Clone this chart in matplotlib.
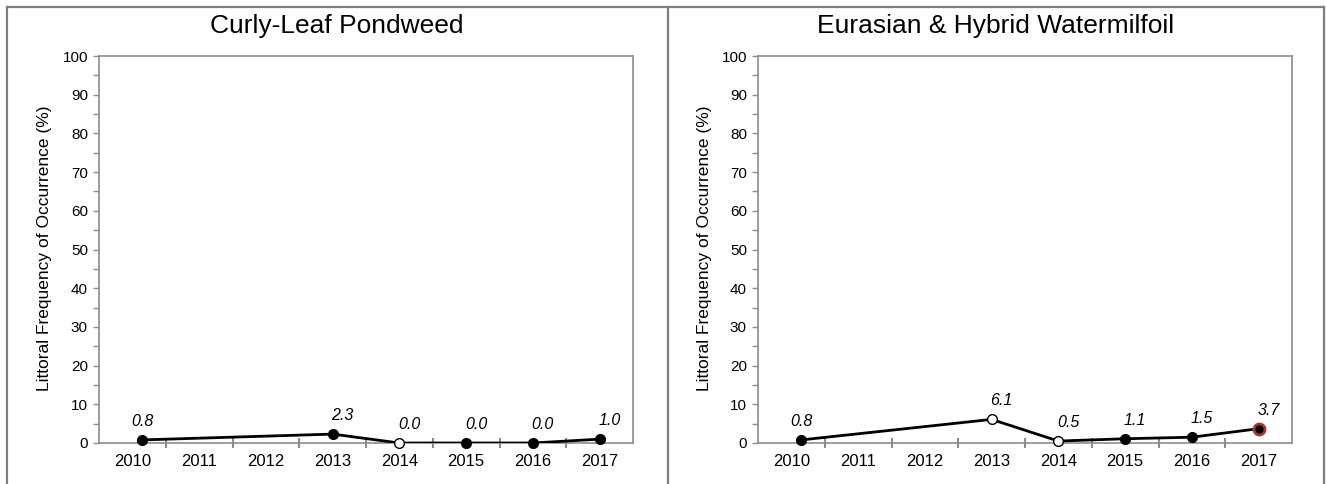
import matplotlib.pyplot as plt
from matplotlib.lines import Line2D

plt.rcParams['font.family'] = ['Liberation Sans', 'DejaVu Sans']

# survey years (2010 sits a bit right of its category in the original)
years = [2010.15, 2013, 2014, 2015, 2016, 2017]
year_labels = ['2010', '2011', '2012', '2013', '2014', '2015', '2016', '2017']

clp_values = [0.8, 2.3, 0.0, 0.0, 0.0, 1.0]
clp_fill = ['black', 'black', 'white', 'black', 'black', 'black']
clp_edge = ['black', 'black', 'black', 'black', 'black', 'black']

ewm_values = [0.8, 6.1, 0.5, 1.1, 1.5, 3.7]
ewm_fill = ['black', 'white', 'white', 'black', 'black', 'black']
ewm_edge = ['black', 'black', 'black', 'black', 'black', '#a33b35']

titles = ['Curly-Leaf Pondweed', 'Eurasian & Hybrid Watermilfoil']
ylabel = 'Littoral Frequency of Occurrence (%)'

W, H = 1326, 484
fig = plt.figure(figsize=(W / 100, H / 100), dpi=100)

gray = '#8c8c8c'


def draw_panel(left_px, values, fills, edges, title, panel_center):
    ax = fig.add_axes([left_px / W, (H - 443) / H, 534 / W, 387 / H])
    ax.plot(years, values, color='black', lw=2, zorder=3)
    for x, y, fc, ec in zip(years, values, fills, edges):
        big = ec != 'black'
        ax.plot(x, y, 'o', ms=8 if big else 7, mfc=fc, mec=ec,
                mew=2 if big else 1, zorder=4, clip_on=False)
        ax.annotate(f'{y:.1f}', (round(x), y), xytext=(10, 11),
                    textcoords='offset pixels', ha='center', va='bottom',
                    fontsize=11.5, style='italic')
    ax.set_xlim(2009.5, 2017.5)
    ax.set_ylim(0, 100)
    ax.set_xticks(range(2010, 2018))
    ax.set_xticklabels(year_labels, fontsize=12)
    ax.set_xticks([2010.5 + i for i in range(7)], minor=True)
    ax.tick_params(axis='x', which='major', length=0, pad=8)
    ax.tick_params(axis='x', which='minor', direction='inout', length=7,
                   width=1.5, color=gray)
    ax.set_yticks(range(0, 101, 10))
    ax.set_yticks(range(5, 100, 10), minor=True)
    ax.tick_params(axis='y', which='both', length=4, width=1, color=gray,
                   labelsize=11, pad=4)
    for s in ax.spines.values():
        s.set_color(gray)
        s.set_linewidth(1.2)
    fig.text(panel_center / W, 1 - 33 / H, title, ha='center', va='baseline',
             fontsize=19)
    fig.text((left_px - 54) / W, 1 - 248 / H, ylabel, rotation=90,
             ha='center', va='center', fontsize=12.5)
    return ax


draw_panel(99, clp_values, clp_fill, clp_edge, titles[0], 337)
draw_panel(758, ewm_values, ewm_fill, ewm_edge, titles[1], 996)

# outer frame and divider
frame = '#7f7f7f'
for xs, ys in [([7, 7], [0, H - 7]), ([7, 1324], [H - 7, H - 7]),
               ([1324, 1324], [0, H - 7]), ([668, 668], [0, H - 7])]:
    fig.add_artist(Line2D([x / W for x in xs], [y / H for y in ys],
                          color=frame, lw=1.6))

fig.savefig('out.png', dpi=100)
